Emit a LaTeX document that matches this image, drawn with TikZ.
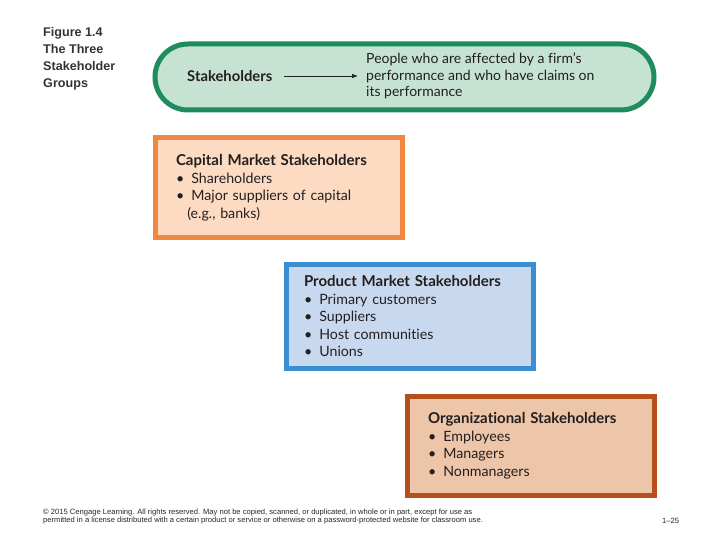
\documentclass[tikz,border=0pt]{standalone}
\usepackage{fontspec}
\setmainfont[Ligatures=NoCommon]{Lato}
\newfontfamily\leyendafont{Liberation Sans}
\definecolor{verdeBorde}{HTML}{1E8C5F}
\definecolor{verdeFondo}{HTML}{C6E2D3}
\definecolor{naranjaBorde}{HTML}{F08841}
\definecolor{naranjaFondo}{HTML}{FDDBC2}
\definecolor{azulBorde}{HTML}{3B8FD1}
\definecolor{azulFondo}{HTML}{C8D9EF}
\definecolor{ladrilloBorde}{HTML}{B5501D}
\definecolor{ladrilloFondo}{HTML}{EDC5A9}
\definecolor{tinta}{HTML}{231F20}
\usetikzlibrary{
	arrows.meta,
	positioning
}
\tikzset{
	resumen/.style={
		draw=verdeBorde,
		line width=5pt,
		fill=verdeFondo,
		rounded corners=33pt,
		minimum width=499pt,
		minimum height=66pt
	},
	grupo/.style={
		line width=5pt,
		align=left,
		inner xsep=21pt,
		minimum width=247pt,
		text width=205pt,
		text=tinta,
		font=\fontsize{14.2}{17.5}\selectfont
	},
	texto/.style={
		inner sep=0pt,
		align=left,
		text=tinta,
		font=\fontsize{14}{16.5}\selectfont
	},
	leyenda/.style={
		inner sep=0pt,
		align=left,
		text=black!80,
		font=\leyendafont\bfseries\fontsize{12.6}{17}\selectfont
	},
	pie/.style={
		inner sep=0pt,
		align=left,
		text=black!85,
		font=\leyendafont\fontsize{7.6}{8.3}\selectfont
	},
	flecha/.style={
		-{Latex[length=6pt,width=4.5pt]},
		line width=0.7pt,
		tinta
	}
}
\newcommand{\vinieta}{\textbullet\enspace}
\newcommand{\cabecera}[1]{{\fontsize{15}{17.5}\selectfont\bfseries #1}}

\begin{document}
\begin{tikzpicture}[x=1pt, y=-1pt, node distance=8pt]
	\useasboundingbox (0,0) rectangle (720,540);
	\node[leyenda, anchor=north west] (figura) at (43,27) {Figure 1.4\\The Three\\Stakeholder\\Groups};
	\node[resumen] (marco) at (404.5,77) {};
	\node[texto, anchor=west, font=\fontsize{14.8}{16.5}\selectfont\bfseries] (stake) at (187,76) {Stakeholders};
	\node[texto, anchor=west] (definicion) at (366,76) {People who are affected by a firm’s\\performance and who have claims on\\its performance};
	\draw[flecha] ([xshift=12pt]stake.east) -- ([xshift=-8pt]definicion.west);
	\node[grupo, draw=naranjaBorde, fill=naranjaFondo, minimum height=99pt] (capital) at (278.5,187.5)
		{\cabecera{Capital Market Stakeholders}\\\vinieta Shareholders\\\vinieta Major suppliers of capital\\\hspace*{0.8em}(e.g., banks)};
	\node[grupo, draw=azulBorde, fill=azulFondo, minimum height=104pt, inner xsep=18pt, text width=211pt] (producto) at (409.5,316)
		{\cabecera{Product Market Stakeholders}\\\vinieta Primary customers\\\vinieta Suppliers\\\vinieta Host communities\\\vinieta Unions};
	\node[grupo, draw=ladrilloBorde, fill=ladrilloFondo, minimum height=99pt] (organizacion) at (530.5,445.5)
		{\cabecera{Organizational Stakeholders}\\\vinieta Employees\\\vinieta Managers\\\vinieta Nonmanagers};
	\node[pie, anchor=north west] (derechos) at (43,508.5) {© 2015 Cengage Learning. All rights reserved. May not be copied, scanned, or duplicated, in whole or in part, except for use as\\permitted in a license distributed with a certain product or service or otherwise on a password-protected website for classroom use.};
	\node[pie, anchor=west] (pagina) at (662,521) {1–25};
\end{tikzpicture}
\end{document}
